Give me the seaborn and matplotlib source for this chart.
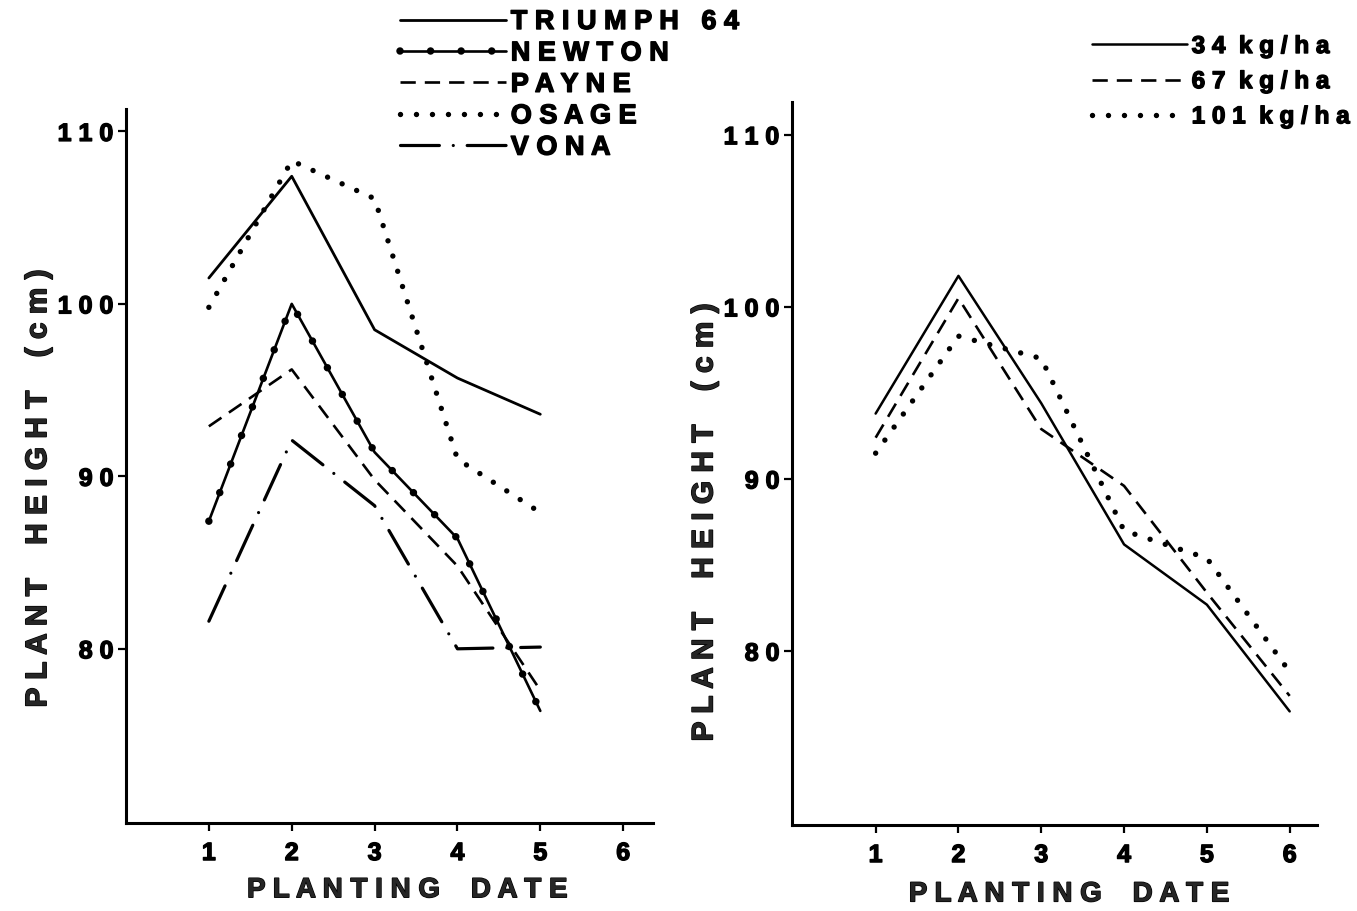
import matplotlib
matplotlib.use("Agg")
import matplotlib.pyplot as plt
import matplotlib.patheffects as pe
import seaborn as sns
from matplotlib.legend_handler import HandlerTuple

# ---- data -------------------------------------------------------------
cultivar_dates = [1, 2, 3, 4, 5]
triumph_64 = [101.5, 107.4, 98.5, 95.7, 93.6]
newton = [87.4, 100.0, 91.4, 86.4, 76.4]
payne = [92.9, 96.2, 89.8, 84.8, 77.6]
osage = [99.8, 108.3, 106.1, 91.0, 87.9]
vona = [81.6, 92.1, 88.3, 80.0, 80.1]
cultivar_names = ["TRIUMPH 64", "NEWTON", "PAYNE", "OSAGE", "VONA"]

rate_dates = [1, 2, 3, 4, 5, 6]
rate_34 = [93.8, 101.8, 94.4, 86.2, 82.7, 76.5]
rate_67 = [92.4, 100.5, 92.9, 89.6, 83.4, 77.4]
rate_101 = [91.5, 98.3, 97.0, 87.0, 85.4, 78.8]
rate_names = ["34 kg/ha", "67 kg/ha", "101 kg/ha"]

x_ticks = [1, 2, 3, 4, 5, 6]
y_ticks = [80, 90, 100, 110]
x_title = "PLANTING DATE"
y_title = "PLANT HEIGHT (cm)"

# ---- style ------------------------------------------------------------
sns.set_style("ticks")
plt.rcParams["font.family"] = ["Liberation Sans", "DejaVu Sans"]
plt.rcParams["font.weight"] = "bold"
plt.rcParams["axes.labelweight"] = "bold"
plt.rcParams["lines.scale_dashes"] = False
plt.rcParams["text.color"] = "black"

HEAVY = [pe.withStroke(linewidth=1.0, foreground="black")]


def spread(text, gap=" ", word_gap="   "):
    """Letter-space a caption the way the typeset figure does."""
    return word_gap.join(gap.join(w) for w in text.split(" "))


W, H = 1357, 912
fig = plt.figure(figsize=(W / 100, H / 100), dpi=100)
fig.patch.set_facecolor("white")


def axes_px(left, right, top, bottom):
    return fig.add_axes([left / W, 1 - bottom / H, (right - left) / W, (bottom - top) / H])


ax1 = axes_px(126, 653, 110, 824)
ax2 = axes_px(792, 1317, 103, 826)

K = "black"
solid = dict(color=K, linestyle="-", solid_capstyle="round")
dotted = dict(color=K, linestyle=(0, (0.01, 11.5)), lw=3.9, dash_capstyle="round")
dashed = dict(color=K, linestyle=(0, (11, 6.5)), lw=1.9, dash_capstyle="butt")
dashdot = dict(color=K, linestyle=(0, (28, 10, 0.01, 10)), lw=2.3, dash_capstyle="round")
beads = dict(color=K, linestyle=(0, (0.01, 22)), lw=5.4, dash_capstyle="round")

# ---- left panel: cultivars -------------------------------------------
sns.lineplot(x=cultivar_dates, y=triumph_64, ax=ax1, lw=2.0, legend=False, **solid)
h_tri = ax1.lines[-1]
sns.lineplot(x=cultivar_dates, y=newton, ax=ax1, lw=1.9, legend=False, **solid)
h_new_line = ax1.lines[-1]
sns.lineplot(x=cultivar_dates, y=newton, ax=ax1, legend=False, **beads)
h_new_dots = ax1.lines[-1]
sns.lineplot(x=cultivar_dates, y=payne, ax=ax1, legend=False, **dashed)
h_pay = ax1.lines[-1]
sns.lineplot(x=cultivar_dates, y=osage, ax=ax1, legend=False, **dotted)
h_osa = ax1.lines[-1]
sns.lineplot(x=cultivar_dates, y=vona, ax=ax1, legend=False, **dashdot)
h_von = ax1.lines[-1]

# ---- right panel: seeding rates --------------------------------------
sns.lineplot(x=rate_dates, y=rate_34, ax=ax2, lw=1.8, legend=False, **solid)
h_34 = ax2.lines[-1]
sns.lineplot(x=rate_dates, y=rate_67, ax=ax2, legend=False, **dashed)
h_67 = ax2.lines[-1]
sns.lineplot(x=rate_dates, y=rate_101, ax=ax2, legend=False, **dotted)
h_101 = ax2.lines[-1]

# ---- axes -------------------------------------------------------------
for ax, xlim, ylim in ((ax1, (0, 6.36), (69.9, 111.3)), (ax2, (-0.01, 6.33), (69.9, 111.9))):
    ax.set_xlim(*xlim)
    ax.set_ylim(*ylim)
    ax.set_facecolor("white")
    for side in ("top", "right"):
        ax.spines[side].set_visible(False)
    for side in ("left", "bottom"):
        ax.spines[side].set_linewidth(2.2)
        ax.spines[side].set_color(K)
    ax.set_xticks(x_ticks)
    ax.set_xticklabels([str(t) for t in x_ticks])
    ax.set_yticks(y_ticks)
    ax.set_yticklabels([spread(str(t)) for t in y_ticks])
    ax.tick_params(axis="both", direction="out", length=6, width=1.6, color=K,
                   labelsize=18, labelcolor=K)
    ax.tick_params(axis="x", pad=7)
    ax.tick_params(axis="y", pad=3)
    ax.set_xlabel(spread(x_title, word_gap="    "), fontsize=20)
    ax.set_ylabel(spread(y_title, word_gap="    "), fontsize=21.5)
    for t in ax.get_xticklabels() + ax.get_yticklabels() + [ax.xaxis.label, ax.yaxis.label]:
        t.set_path_effects(HEAVY)

ax1.xaxis.set_label_coords(0.534, -0.076)
ax2.xaxis.set_label_coords(0.528, -0.078)
ax1.yaxis.set_label_coords(-0.14, 0.468)
ax2.yaxis.set_label_coords(-0.14, 0.418)

# ---- legends ----------------------------------------------------------
leg1 = fig.legend(
    handles=[h_tri, (h_new_line, h_new_dots), h_pay, h_osa, h_von],
    labels=[spread(n) for n in cultivar_names],
    loc="upper left", bbox_to_anchor=(400 / W, 1 - 10 / H),
    frameon=False, fontsize=19.5, handlelength=3.9, handletextpad=0.19,
    labelspacing=0.2, borderpad=0, borderaxespad=0,
    handler_map={tuple: HandlerTuple(ndivide=1)},
)
leg2 = fig.legend(
    handles=[h_34, h_67, h_101],
    labels=[spread(n, word_gap="  ") for n in rate_names],
    loc="upper left", bbox_to_anchor=(1092 / W, 1 - 36 / H),
    frameon=False, fontsize=17.5, handlelength=3.9, handletextpad=0.2,
    labelspacing=0.5, borderpad=0, borderaxespad=0,
)
for leg in (leg1, leg2):
    for t in leg.get_texts():
        t.set_path_effects(HEAVY)

fig.savefig("out.png", dpi=100, facecolor="white")
